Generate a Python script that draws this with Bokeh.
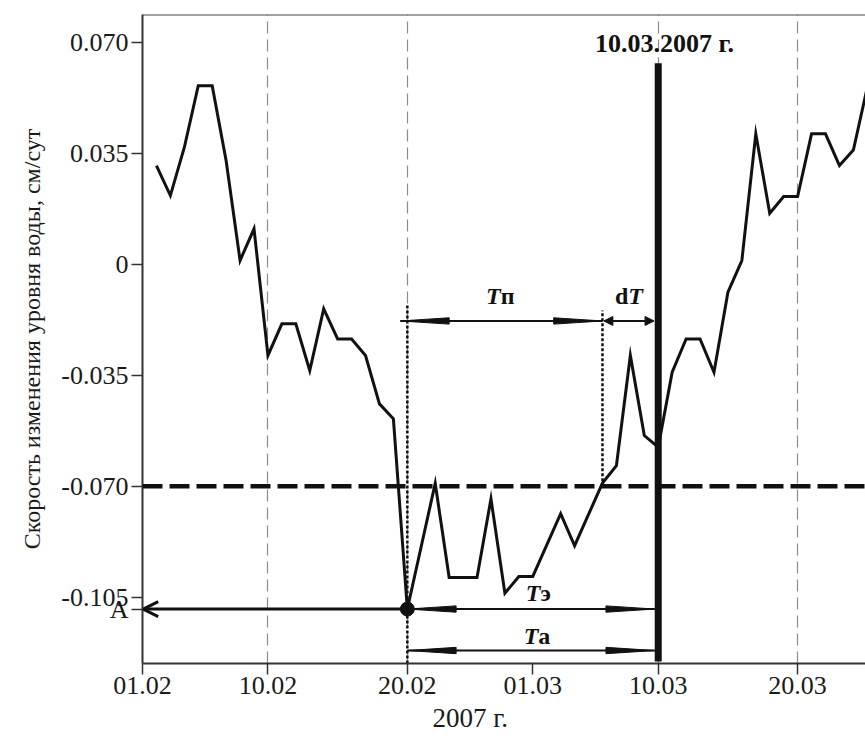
from datetime import date
from bokeh.plotting import figure
from bokeh.models import (Range1d, FixedTicker, CustomJSTickFormatter, Span, Label,
                          Arrow, NormalHead, OpenHead, Title)
from bokeh.embed import file_html
from bokeh.resources import INLINE

# ---------------- data ----------------
start = date(2007, 2, 1)
tick_labels = ["01.02", "10.02", "20.02", "01.03", "10.03", "20.03"]
grid_labels = ["10.02", "20.02", "10.03", "20.03"]

days = [1, 2, 3, 4, 5, 6, 7, 8, 9, 10, 11, 12, 13, 14, 15, 16, 17, 18, 19,
        21, 22, 23, 24, 25, 26, 27, 28, 30, 31, 33, 34, 35, 36, 37, 38, 39,
        40, 41, 42, 43, 44, 45, 46, 47, 48, 49, 50, 51, 52]
rate = [0.0313, 0.0218, 0.0370, 0.0565, 0.0565, 0.0328, 0.0013, 0.0113, -0.0287,
        -0.0187, -0.0187, -0.0335, -0.0140, -0.0235, -0.0235, -0.0287, -0.0440,
        -0.0487, -0.1088,
        -0.0691, -0.0988, -0.0988, -0.0988, -0.0740, -0.1038, -0.0985, -0.0985,
        -0.0787, -0.0888, -0.0690, -0.0635, -0.0287, -0.0540, -0.0577, -0.0340,
        -0.0235, -0.0235, -0.0340, -0.0087, 0.0013, 0.0413, 0.0162, 0.0215,
        0.0215, 0.0413, 0.0413, 0.0313, 0.0362, 0.0560]
y_ticks = [0.070, 0.035, 0.0, -0.035, -0.070, -0.105]
threshold = -0.070
event_label = "10.03.2007 г."
event_date = "10.03"
start_date_point = 19      # day of point A (20.02)
end_interval_day = 33      # day where the curve crosses the threshold again (06.03)
y_title = "Скорость изменения уровня воды, см/сут"
x_title = "2007 г."
point_label = "A"


def day_of(lbl):
    d, m = lbl.split(".")
    return (date(2007, int(m), int(d)) - start).days


tick_days = [day_of(t) for t in tick_labels]
grid_days = [day_of(t) for t in grid_labels]
event_day = day_of(event_date)
a_value = rate[days.index(start_date_point)]

FONT = "Liberation Serif"
W, H = 865, 738

# ---------------- figure ----------------
Y0, Y1 = -0.1260, 0.0790
p = figure(width=W, height=H, output_backend="svg", toolbar_location=None,
           x_range=Range1d(0, 51.87), y_range=Range1d(Y0, Y1),
           min_border_left=142, min_border_right=0, min_border_top=14,
           min_border_bottom=75)
p.outline_line_color = None
p.background_fill_color = "white"
p.border_fill_color = "white"

# axes
for ax in (p.xaxis[0], p.yaxis[0]):
    ax.axis_line_color = "#333333"
    ax.axis_line_width = 2
    ax.major_tick_line_color = "#333333"
    ax.major_tick_line_width = 1.5
    ax.major_tick_out = 11
    ax.major_tick_in = 0
    ax.minor_tick_line_color = None
    ax.major_label_text_font = FONT
    ax.major_label_text_font_size = "26px"
    ax.major_label_text_color = "#1a1a1a"

p.xaxis.ticker = FixedTicker(ticks=tick_days)
p.xaxis.formatter = CustomJSTickFormatter(
    args=dict(tvals=tick_days, tlabels=tick_labels),
    code="const i = tvals.indexOf(tick); return i >= 0 ? tlabels[i] : '';")
p.xaxis.major_label_standoff = 2

# y ticks plus the level of point A, labelled "A"
p.yaxis.ticker = FixedTicker(ticks=y_ticks + [a_value])
p.yaxis.formatter = CustomJSTickFormatter(
    args=dict(aval=a_value, alab=point_label),
    code="if (Math.abs(tick - aval) < 1e-9) return alab;"
         "return Math.abs(tick) < 1e-9 ? '0' : tick.toFixed(3);")
p.yaxis.major_label_standoff = 3

# grids
p.ygrid.grid_line_color = None
p.xgrid.ticker = FixedTicker(ticks=grid_days)
p.xgrid.grid_line_color = "#8c8c8c"
p.xgrid.grid_line_width = 1.2
p.xgrid.grid_line_dash = "12 6"

# top border
p.add_layout(Span(location=Y1, dimension="width", line_color="#444444", line_width=2))

# threshold
p.add_layout(Span(location=threshold, dimension="width", line_color="#111111",
                  line_width=4.5, line_dash="20 7"))

# series
p.line(days, rate, line_color="#111111", line_width=3, line_join="miter")

# event line
p.segment(x0=[event_day], y0=[Y0 + 0.0006], x1=[event_day], y1=[0.0636],
          line_color="#111111", line_width=7)
p.add_layout(Label(x=event_day + 0.45, y=0.0698, text=event_label,
                   text_font=FONT, text_font_size="26px", text_font_style="bold",
                   text_align="center", text_baseline="middle", text_color="#111111"))

# dotted guide lines
p.segment(x0=[start_date_point, end_interval_day], y0=[Y0, threshold],
          x1=[start_date_point, end_interval_day], y1=[-0.0123, -0.0145],
          line_color="#111111", line_width=2.5, line_dash="3 2")

# point A
p.scatter([start_date_point], [a_value], size=14, color="#111111")
p.add_layout(Arrow(end=OpenHead(size=15, line_width=3, line_color="#111111"),
                   x_start=start_date_point - 0.3, y_start=a_value, x_end=0.05, y_end=a_value,
                   line_width=3, line_color="#111111"))


# tapered double arrows
HEAD_L = 3.5       # days
HEAD_W = 0.0010    # value units


def double_arrow(x0, x1, y):
    p.segment(x0=[x0], y0=[y], x1=[x1], y1=[y], line_color="#111111", line_width=2)
    xs = [[x0, x0 + HEAD_L, x0 + HEAD_L], [x1, x1 - HEAD_L, x1 - HEAD_L]]
    ys = [[y, y + HEAD_W, y - HEAD_W], [y, y + HEAD_W, y - HEAD_W]]
    p.patches(xs, ys, fill_color="#111111", line_color="#111111", line_width=1)


y_tp = -0.0178
double_arrow(18.5, end_interval_day, y_tp)
double_arrow(start_date_point, event_day - 0.25, a_value)
y_ta = -0.1219
double_arrow(start_date_point, event_day - 0.25, y_ta)

# dT arrow
p.add_layout(Arrow(start=NormalHead(size=9, fill_color="#111111", line_color="#111111"),
                   end=NormalHead(size=9, fill_color="#111111", line_color="#111111"),
                   x_start=end_interval_day + 0.1, y_start=y_tp,
                   x_end=event_day - 0.3, y_end=y_tp, line_width=2, line_color="#111111"))


def mixed(x, y, first, second, size="24px"):
    p.add_layout(Label(x=x, y=y, text=first, text_font=FONT, text_font_size=size,
                       text_font_style="bold italic", text_align="right",
                       text_baseline="middle", text_color="#111111"))
    p.add_layout(Label(x=x, y=y, text=second, text_font=FONT, text_font_size=size,
                       text_font_style="bold", text_align="left",
                       text_baseline="middle", text_color="#111111"))


mixed(25.7, -0.0098, "T", "п")
mixed(28.55, -0.1036, "T", "э")
mixed(28.4, -0.1172, "T", "a")
# dT: upright d then italic T
p.add_layout(Label(x=34.85, y=-0.0098, text="d", text_font=FONT, text_font_size="24px",
                   text_font_style="bold", text_align="right", text_baseline="middle",
                   text_color="#111111"))
p.add_layout(Label(x=34.85, y=-0.0098, text="T", text_font=FONT, text_font_size="24px",
                   text_font_style="bold italic", text_align="left", text_baseline="middle",
                   text_color="#111111"))

# axis titles
p.add_layout(Title(text=y_title, align="center", offset=68, text_font=FONT,
                   text_font_size="24px", text_font_style="normal",
                   text_color="#1a1a1a", standoff=28), "left")
p.add_layout(Title(text=x_title, align="left", offset=290, text_font=FONT,
                   text_font_size="27px", text_font_style="normal",
                   text_color="#1a1a1a", standoff=9), "below")

open("out.html", "w").write(file_html(p, INLINE))
